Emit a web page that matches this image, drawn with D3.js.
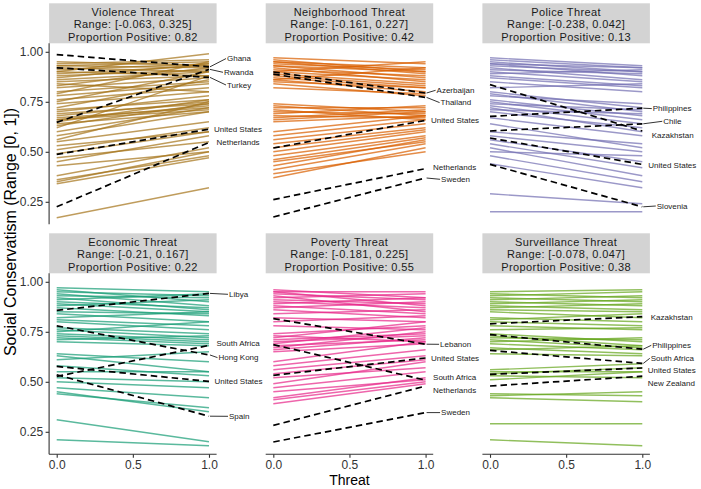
<!DOCTYPE html>
<html><head><meta charset="utf-8">
<script src="https://cdn.jsdelivr.net/npm/d3@7"></script>
<style>
html,body{margin:0;padding:0;background:#fff;}
svg{display:block;font-family:"Liberation Sans",Arial,Helvetica,sans-serif;}
</style></head><body>
<svg id="chart" width="701" height="489"></svg>
<script>
// ---------------- data ----------------
const panelNames = ["Violence Threat","Neighborhood Threat","Police Threat","Economic Threat","Poverty Threat","Surveillance Threat"];
const panelRanges = ["[-0.063, 0.325]","[-0.161, 0.227]","[-0.238, 0.042]","[-0.21, 0.167]","[-0.181, 0.225]","[-0.078, 0.047]"];
const propPositive = ["0.82","0.42","0.13","0.22","0.55","0.38"];
const panelColors = ["#A6761D","#D95F02","#7570B3","#1B9E77","#E7298A","#66A61E"];
const xTicks = [0, 0.5, 1];
const xTickLabels = ["0.0","0.5","1.0"];
const yTicks = [0.25, 0.5, 0.75, 1];
const yTickLabels = ["0.25","0.50","0.75","1.00"];

// country lines: [value at threat 0, value at threat 1]
const violenceLines = [[0.95,0.93],[0.94,0.96],[0.93,0.92],[0.93,0.95],[0.92,0.90],[0.91,0.94],[0.90,0.99],[0.89,0.93],[0.88,0.91],[0.87,0.94],[0.86,0.90],[0.85,0.88],[0.83,0.92],[0.82,0.87],[0.80,0.85],[0.79,0.95],[0.78,0.84],[0.76,0.82],[0.75,0.90],[0.74,0.80],[0.72,0.86],[0.71,0.76],[0.70,0.78],[0.69,0.74],[0.68,0.75],[0.67,0.72],[0.66,0.73],[0.66,0.71],[0.65,0.76],[0.64,0.70],[0.63,0.74],[0.62,0.88],[0.60,0.72],[0.58,0.70],[0.56,0.75],[0.55,0.65],[0.53,0.60],[0.51,0.62],[0.49,0.60],[0.47,0.55],[0.45,0.58],[0.43,0.50],[0.38,0.52],[0.36,0.48],[0.35,0.50],[0.34,0.47],[0.17,0.32],[0.90,0.88],[0.84,0.80]];
const neighborhoodLines = [[0.97,0.94],[0.96,0.90],[0.95,0.92],[0.95,0.89],[0.94,0.91],[0.93,0.87],[0.93,0.90],[0.92,0.85],[0.91,0.88],[0.90,0.86],[0.89,0.84],[0.88,0.83],[0.87,0.82],[0.86,0.80],[0.85,0.82],[0.84,0.78],[0.82,0.79],[0.90,0.95],[0.86,0.92],[0.74,0.70],[0.73,0.68],[0.72,0.72],[0.71,0.66],[0.70,0.69],[0.69,0.73],[0.68,0.67],[0.67,0.71],[0.66,0.70],[0.65,0.68],[0.60,0.68],[0.58,0.66],[0.56,0.64],[0.54,0.62],[0.52,0.61],[0.50,0.60],[0.48,0.58],[0.46,0.57],[0.45,0.55],[0.43,0.56],[0.41,0.54],[0.39,0.50],[0.37,0.52]];
const policeLines = [[0.97,0.93],[0.96,0.92],[0.95,0.90],[0.94,0.92],[0.94,0.88],[0.93,0.90],[0.92,0.86],[0.91,0.89],[0.90,0.85],[0.89,0.91],[0.88,0.83],[0.87,0.82],[0.85,0.80],[0.82,0.84],[0.80,0.72],[0.79,0.70],[0.78,0.74],[0.76,0.68],[0.75,0.66],[0.74,0.71],[0.73,0.64],[0.72,0.60],[0.71,0.69],[0.70,0.62],[0.67,0.58],[0.64,0.52],[0.60,0.54],[0.58,0.50],[0.56,0.45],[0.54,0.42],[0.52,0.38],[0.50,0.48],[0.48,0.35],[0.44,0.32],[0.29,0.24],[0.20,0.20]];
const economicLines = [[0.97,0.95],[0.96,0.90],[0.95,0.93],[0.94,0.88],[0.93,0.92],[0.92,0.86],[0.91,0.94],[0.90,0.87],[0.89,0.85],[0.88,0.91],[0.87,0.83],[0.85,0.84],[0.84,0.80],[0.82,0.85],[0.81,0.78],[0.80,0.76],[0.77,0.74],[0.76,0.72],[0.75,0.80],[0.74,0.71],[0.73,0.70],[0.72,0.69],[0.71,0.73],[0.70,0.68],[0.64,0.60],[0.63,0.55],[0.61,0.65],[0.58,0.53],[0.55,0.55],[0.52,0.50],[0.50,0.47],[0.47,0.42],[0.45,0.35],[0.44,0.37],[0.31,0.20],[0.21,0.18]];
const povertyLines = [[0.96,0.92],[0.95,0.95],[0.95,0.88],[0.94,0.91],[0.93,0.85],[0.92,0.94],[0.91,0.89],[0.90,0.87],[0.89,0.92],[0.88,0.84],[0.87,0.90],[0.86,0.82],[0.84,0.86],[0.82,0.80],[0.80,0.83],[0.78,0.76],[0.74,0.78],[0.73,0.70],[0.72,0.80],[0.71,0.74],[0.70,0.73],[0.69,0.77],[0.68,0.71],[0.67,0.75],[0.66,0.72],[0.65,0.69],[0.60,0.70],[0.58,0.66],[0.56,0.63],[0.54,0.61],[0.52,0.57],[0.49,0.60],[0.47,0.55],[0.45,0.51],[0.42,0.52],[0.41,0.50],[0.39,0.49]];
const surveillanceLines = [[0.95,0.96],[0.94,0.92],[0.93,0.95],[0.92,0.90],[0.91,0.93],[0.90,0.88],[0.89,0.91],[0.88,0.86],[0.87,0.89],[0.86,0.85],[0.85,0.82],[0.82,0.80],[0.81,0.84],[0.80,0.78],[0.78,0.76],[0.76,0.77],[0.74,0.70],[0.73,0.68],[0.72,0.71],[0.71,0.67],[0.70,0.72],[0.69,0.66],[0.67,0.64],[0.66,0.68],[0.64,0.63],[0.56,0.59],[0.55,0.55],[0.54,0.57],[0.53,0.52],[0.51,0.55],[0.44,0.43],[0.43,0.45],[0.42,0.40],[0.29,0.29],[0.21,0.18]];

// highlighted countries: [name, value at 0, value at 1]
const violenceHighlight = [["Ghana",0.986,0.925],["Rwanda",0.647,0.912],["Turkey",0.92,0.872],["United States",0.487,0.613],["Netherlands",0.225,0.547]];
const neighborhoodHighlight = [["Azerbaijan",0.899,0.794],["Thailand",0.888,0.772],["United States",0.519,0.657],["Netherlands",0.261,0.416],["Sweden",0.174,0.369]];
const policeHighlight = [["Philippines",0.677,0.718],["Chile",0.604,0.64],["Kazakhstan",0.836,0.604],["United States",0.569,0.437],["Slovenia",0.437,0.225]];
const economicHighlight = [["Libya",0.857,0.942],["South Africa",0.527,0.682],["Hong Kong",0.78,0.634],["United States",0.577,0.502],["Spain",0.535,0.328]];
const povertyHighlight = [["Lebanon",0.816,0.688],["United States",0.532,0.619],["South Africa",0.686,0.508],["Netherlands",0.282,0.479],["Sweden",0.199,0.346]];
const surveillanceHighlight = [["Kazakhstan",0.79,0.826],["Philippines",0.736,0.663],["South Africa",0.657,0.592],["United States",0.537,0.569],["New Zealand",0.479,0.528]];

// label placement (layout, not data): [x offset px from line end, label centre in y-units, draw leader]
const labelLayout = [
  [[18,0.966,1],[15,0.8975,1],[18,0.834,1],[5,0.6125,0],[7.5,0.549,0]],
  [[11,0.8075,1],[15,0.746,1],[5.5,0.6575,0],[7.5,0.424,0],[15.5,0.3625,1]],
  [[10.5,0.716,1],[21,0.6525,1],[9.5,0.585,0],[6,0.4325,0],[14.5,0.229,1]],
  [[20,0.9375,1],[7.5,0.691,0],[9.5,0.621,1],[5.5,0.5025,0],[20,0.3275,1]],
  [[14.5,0.6875,1],[5.5,0.616,0],[7.5,0.524,0],[7.5,0.4575,0],[15.5,0.346,1]],
  [[8.5,0.824,0],[10,0.6825,1],[8.5,0.6175,1],[5.5,0.5575,0],[5.5,0.491,0]]
];

const allLines = [violenceLines, neighborhoodLines, policeLines, economicLines, povertyLines, surveillanceLines];
const allHighlights = [violenceHighlight, neighborhoodHighlight, policeHighlight, economicHighlight, povertyHighlight, surveillanceHighlight];

// ---------------- layout ----------------
const svg = d3.select("#chart");
const panelLeft = [49.1, 265.7, 482.4];
const panelW = 167.5;
const stripTop = [3.3, 233.3];
const stripH = 40;
const panelH = 181;

const x = d3.scaleLinear().domain([-0.05, 1.05]).range([0, panelW]);
const y = d3.scaleLinear().domain([0.1375, 1.0425]).range([panelH, 0]);

panelNames.forEach((name, i) => {
  const col = i % 3, row = Math.floor(i / 3);
  const left = panelLeft[col];
  const sTop = stripTop[row];
  const pTop = sTop + stripH;
  // strip
  const strip = svg.append("g").attr("transform", `translate(${left},${sTop})`);
  strip.append("rect").attr("width", panelW).attr("height", stripH).attr("fill", "#d3d3d3");
  const st = [name, "Range: " + panelRanges[i], "Proportion Positive: " + propPositive[i]];
  st.forEach((t, k) => {
    strip.append("text").attr("x", panelW / 2).attr("y", 8.6 + k * 12.4)
      .attr("dy", "0.35em").attr("text-anchor", "middle")
      .attr("font-size", 11).attr("letter-spacing", 0.4).attr("fill", "#1a1a1a").text(t);
  });

  const g = svg.append("g").attr("transform", `translate(${left},${pTop})`);
  // colored country lines
  g.selectAll("line.country").data(allLines[i]).join("line")
    .attr("class", "country")
    .attr("x1", x(0)).attr("x2", x(1))
    .attr("y1", d => y(d[0])).attr("y2", d => y(d[1]))
    .attr("stroke", panelColors[i]).attr("stroke-width", 1.4).attr("stroke-opacity", 0.72);
  // highlighted dashed lines
  g.selectAll("line.hl").data(allHighlights[i]).join("line")
    .attr("class", "hl")
    .attr("x1", x(0)).attr("x2", x(1))
    .attr("y1", d => y(d[1])).attr("y2", d => y(d[2]))
    .attr("stroke", "#000").attr("stroke-width", 1.7).attr("stroke-dasharray", "6.5,4");
  // labels
  allHighlights[i].forEach((d, k) => {
    const L = labelLayout[i][k];
    const lx = x(1) + L[0], ly = y(L[1]);
    if (L[2]) {
      g.append("line").attr("x1", x(1) + 1).attr("y1", y(d[2]))
        .attr("x2", lx - 1).attr("y2", ly)
        .attr("stroke", "#000").attr("stroke-width", 0.8);
    }
    g.append("text").attr("x", lx).attr("y", ly).attr("dy", "0.35em")
      .attr("font-size", 8).attr("fill", "#1a1a1a").text(d[0]);
  });

  // y axis on left column
  if (col === 0) {
    const ya = g.append("g").call(d3.axisLeft(y).tickValues(yTicks)
      .tickFormat((d, k) => yTickLabels[k]).tickSize(3.5).tickPadding(2.5));
    ya.select(".domain").attr("stroke", "#333").attr("stroke-width", 1.1).attr("d", `M0,0V${panelH}`);
    ya.selectAll(".tick line").attr("stroke", "#333").attr("stroke-width", 1.1);
    ya.selectAll(".tick text").attr("font-size", 12).attr("fill", "#333")
      .attr("font-family", "Liberation Sans, Arial, sans-serif");
  }
  // x axis on bottom row
  if (row === 1) {
    const xa = g.append("g").attr("transform", `translate(0,${panelH})`)
      .call(d3.axisBottom(x).tickValues(xTicks).tickFormat((d, k) => xTickLabels[k]).tickSize(3.5).tickPadding(2.5));
    xa.select(".domain").attr("stroke", "#333").attr("stroke-width", 1.1).attr("d", `M0,0H${panelW}`);
    xa.selectAll(".tick line").attr("stroke", "#333").attr("stroke-width", 1.1);
    xa.selectAll(".tick text").attr("font-size", 12).attr("fill", "#333")
      .attr("font-family", "Liberation Sans, Arial, sans-serif");
  }
});

// axis titles
svg.append("text").attr("x", panelLeft[1] + panelW / 2).attr("y", 480).attr("dy", "0.35em")
  .attr("text-anchor", "middle").attr("font-size", 14).attr("fill", "#000").text("Threat");
svg.append("text").attr("transform", `translate(10,232) rotate(-90)`)
  .attr("dy", "0.35em").attr("text-anchor", "middle").attr("font-size", 16).attr("fill", "#000")
  .text("Social Conservatism (Range [0, 1])");
</script>
</body></html>
